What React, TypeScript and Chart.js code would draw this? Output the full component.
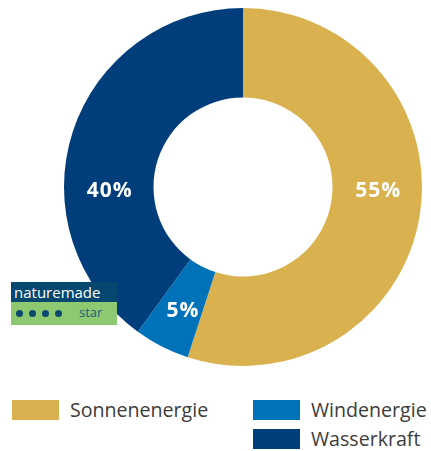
import React, { useEffect, useRef } from "react";
import { Chart, registerables } from "chart.js";

Chart.register(...registerables);

const categories = ["Sonnenenergie", "Windenergie", "Wasserkraft"];
const values = [55, 5, 40];
const colors = ["#D9B24F", "#0072BA", "#003D7B"];
const valueLabels = ["55%", "5%", "40%"];

const FONT = "'Open Sans', 'DejaVu Sans', sans-serif";

const sliceLabels = {
  id: "sliceLabels",
  afterDatasetsDraw(chart: any) {
    const meta = chart.getDatasetMeta(0);
    const ctx = chart.ctx;
    ctx.save();
    ctx.fillStyle = "#ffffff";
    ctx.font = `bold 21px ${FONT}`;
    try {
      (ctx as any).letterSpacing = "1px";
    } catch (e) {}
    ctx.textAlign = "center";
    ctx.textBaseline = "middle";
    meta.data.forEach((arc: any, i: number) => {
      const { x, y, startAngle, endAngle, innerRadius, outerRadius } = arc.getProps(
        ["x", "y", "startAngle", "endAngle", "innerRadius", "outerRadius"],
        true
      );
      let a = (startAngle + endAngle) / 2;
      // prefer a horizontal position when the slice contains one
      const cands = [0, Math.PI, -Math.PI, 2 * Math.PI];
      for (const c of cands) {
        if (c > startAngle && c < endAngle) {
          a = c;
          break;
        }
      }
      const r = (innerRadius + outerRadius) / 2;
      ctx.fillText(valueLabels[i], x + Math.cos(a) * r + 1, y + Math.sin(a) * r + 4);
    });
    ctx.restore();
  },
};

function Legend() {
  const item = (i: number, left: number, top: number) => (
    <div
      key={i}
      style={{
        position: "absolute",
        left,
        top,
        display: "flex",
        alignItems: "center",
        height: 21,
      }}
    >
      <div style={{ width: 47, height: 20, background: colors[i] }} />
      <span
        style={{
          marginLeft: 11,
          fontFamily: FONT,
          fontSize: 19.6,
          color: "#3c3c3c",
          lineHeight: "21px",
        }}
      >
        {categories[i]}
      </span>
    </div>
  );
  return (
    <>
      {item(0, 12, 399)}
      {item(1, 253, 399)}
      {item(2, 253, 428)}
    </>
  );
}

function Badge() {
  return (
    <div style={{ position: "absolute", left: 11, top: 282, width: 106 }}>
      <div
        style={{
          height: 20,
          background: "#06476F",
          color: "#ffffff",
          fontFamily: FONT,
          fontSize: 15,
          lineHeight: "20px",
          paddingLeft: 3,
        }}
      >
        naturemade
      </div>
      <div
        style={{
          height: 23,
          background: "#8DC971",
          position: "relative",
        }}
      >
        {[0, 1, 2, 3].map((k) => (
          <div
            key={k}
            style={{
              position: "absolute",
              left: 5 + k * 13,
              top: 8,
              width: 7,
              height: 7,
              borderRadius: 4,
              background: "#0B4A6E",
            }}
          />
        ))}
        <span
          style={{
            position: "absolute",
            left: 68,
            top: 1,
            fontFamily: FONT,
            fontSize: 13,
            color: "#1F5A78",
          }}
        >
          star
        </span>
      </div>
    </div>
  );
}

export default function App() {
  const ref = useRef<HTMLCanvasElement | null>(null);
  useEffect(() => {
    if (!ref.current) return;
    const chart = new Chart(ref.current, {
      type: "doughnut",
      data: {
        labels: categories,
        datasets: [
          {
            data: values,
            backgroundColor: colors,
            borderWidth: 0,
          },
        ],
      },
      options: {
        animation: false,
        responsive: false,
        cutout: "50%",
        layout: { padding: { left: 64, right: 9, top: 8, bottom: 8 } },
        plugins: {
          legend: { display: false },
          tooltip: { enabled: false },
        },
      },
      plugins: [sliceLabels],
    });
    return () => chart.destroy();
  }, []);
  return (
    <div
      style={{
        position: "absolute",
        left: 0,
        top: 0,
        width: 431,
        height: 451,
        background: "#ffffff",
      }}
    >
      <canvas ref={ref} width={431} height={374} style={{ display: "block" }} />
      <Badge />
      <Legend />
    </div>
  );
}
